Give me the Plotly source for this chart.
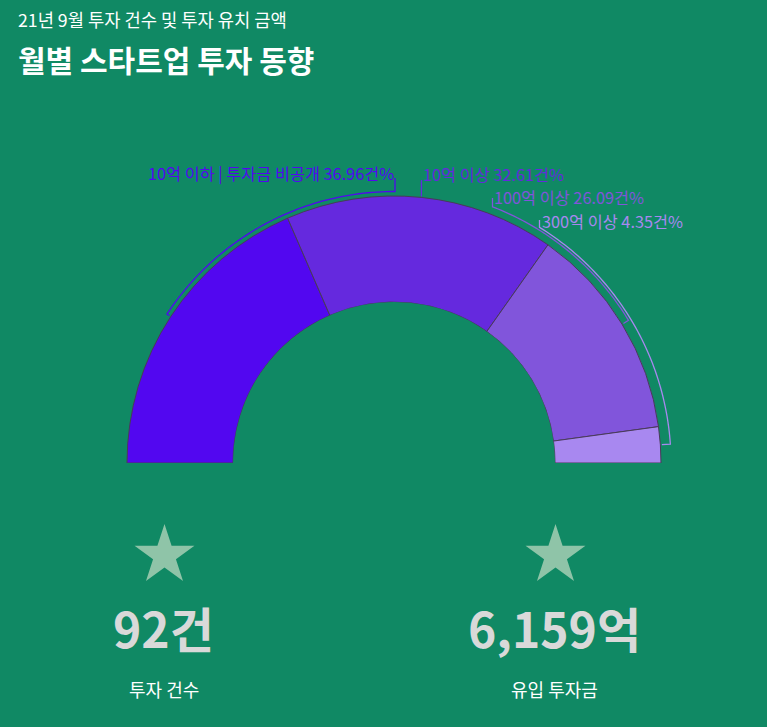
import math
import plotly.graph_objects as go

# ---------------- data ----------------
title_sub = "21년 9월 투자 건수 및 투자 유치 금액"
title_main = "월별 스타트업 투자 동향"
categories = ["10억 이하 | 투자금 비공개", "10억 이상", "100억 이상", "300억 이상"]
shares = [36.96, 32.61, 26.09, 4.35]
slice_colors = ["#5207F0", "#6529DE", "#8155DB", "#A888F0"]
stat_values = ["92건", "6,159억"]
stat_labels = ["투자 건수", "유입 투자금"]

# ---------------- layout constants ----------------
W, H = 767, 727
BG = "#108964"
FONT = "Noto Sans CJK KR"
CX, CY = 394, 463          # centre of the half donut (px)
R_PLOT = 300               # radius of polar area (px)
R_IN, R_OUT = 161, 267     # donut radii (px)

total = sum(shares)
spans = [s / total * 180 for s in shares]
starts = [sum(spans[:i]) for i in range(len(spans))]
mids = [st + sp / 2 for st, sp in zip(starts, spans)]

fig = go.Figure()

fig.add_trace(go.Barpolar(
    r=[R_OUT - R_IN] * len(shares),
    base=[R_IN] * len(shares),
    theta=mids,
    width=spans,
    marker=dict(color=slice_colors, line=dict(color="#4a3a5a", width=1)),
    text=categories,
    hoverinfo="text",
    showlegend=False,
))


def px_to_theta(x, y):
    dx, dy = x - CX, CY - y
    r = math.hypot(dx, dy)
    phi = math.degrees(math.atan2(dy, dx))
    return r, 180 - phi


def arc(r, t0, t1, n=60):
    return [r] * (n + 1), [t0 + (t1 - t0) * k / n for k in range(n + 1)]


# bracket definitions: (stub x px, stub top y px, arc radius or None)
brackets = [
    (395, 178, 271.5),
    (421.5, 180, None),
    (492.5, 198, 274.5),
    (539.5, 220, 277.0),
]

for i, (sx, sy, ra) in enumerate(brackets):
    rr, tt = [], []
    r0, t0 = px_to_theta(sx, sy)
    rr.append(r0); tt.append(t0)
    if ra is None:
        rr.append(R_OUT + 1); tt.append(mids[i])
    else:
        dx = sx - CX
        y_arc = CY - math.sqrt(ra ** 2 - dx ** 2)
        r1, t1 = px_to_theta(sx, y_arc)
        ar, at = arc(ra, t1, mids[i])
        rr += ar; tt += at
        rr.append(R_OUT + 1.5); tt.append(mids[i])
    fig.add_trace(go.Scatterpolar(
        r=rr, theta=tt, mode="lines",
        line=dict(color=slice_colors[i], width=1.3),
        hoverinfo="skip", showlegend=False,
    ))

fig.update_layout(
    polar=dict(
        domain=dict(x=[(CX - R_PLOT) / W, (CX + R_PLOT) / W],
                    y=[(H - CY) / H, (H - CY + R_PLOT) / H]),
        sector=[0, 180],
        hole=R_IN / R_PLOT,
        bgcolor="rgba(0,0,0,0)",
        radialaxis=dict(range=[R_IN, R_PLOT], visible=False, showgrid=False),
        angularaxis=dict(direction="clockwise", rotation=180, visible=False,
                         showgrid=False, thetaunit="degrees"),
    ),
)

# stars
fig.add_trace(go.Scatter(
    x=[164.5, 555.5], y=[H - 555.5, H - 555.5], mode="markers",
    marker=dict(symbol="star", size=45, color="#8FC4A8", line=dict(width=0)),
    hoverinfo="skip", showlegend=False,
))
fig.update_layout(
    xaxis=dict(range=[0, W], visible=False, fixedrange=True, domain=[0, 1]),
    yaxis=dict(range=[0, H], visible=False, fixedrange=True, domain=[0, 1]),
)

annotations = []


def ann(text, x, y, size, color, xanchor="left", bold=False):
    annotations.append(dict(
        text=f"<b>{text}</b>" if bold else text,
        x=x / W, y=1 - y / H, xref="paper", yref="paper",
        xanchor=xanchor, yanchor="middle", showarrow=False,
        font=dict(family=FONT, size=size, color=color),
    ))


ann(title_sub, 16, 19, 17.7, "white")
ann(title_main, 16, 59, 30, "white", bold=True)

label_pos = [(396, 172.5, "right"), (421, 173.5, "left"),
             (492, 196.5, "left"), (540, 220.5, "left")]
for i, (x, y, xa) in enumerate(label_pos):
    ann(f"{categories[i]} {shares[i]:.2f}건%", x, y, 16.3, slice_colors[i], xanchor=xa)

for cx, val, lab in zip([163.5, 554], stat_values, stat_labels):
    ann(val, cx, 627, 48, "#D9D9D9", xanchor="center", bold=True)
    ann(lab, cx, 689, 18, "white", xanchor="center")

fig.update_layout(
    width=W, height=H,
    margin=dict(l=0, r=0, t=0, b=0),
    paper_bgcolor=BG, plot_bgcolor=BG,
    annotations=annotations,
    font=dict(family=FONT),
)

fig.write_html("out.html", config={"displayModeBar": False},
               post_script="document.body.style.margin='0';document.body.style.background='" + BG + "';")
